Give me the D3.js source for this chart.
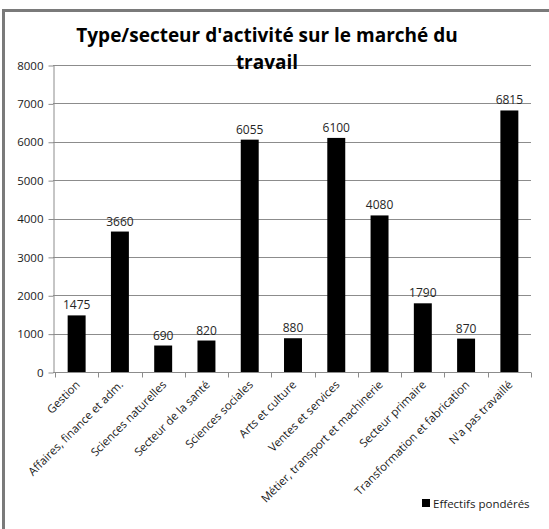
<!DOCTYPE html>
<html>
<head>
<meta charset="utf-8">
<script src="https://cdn.jsdelivr.net/npm/d3@7"></script>
<style>
  body { margin: 0; background: #fff; }
  svg { display: block; font-family: "Open Sans", sans-serif; }
</style>
</head>
<body>
<div id="chart"></div>
<script>
var categories = [
  "Gestion", "Affaires, finance et adm.", "Sciences naturelles", "Secteur de la santé",
  "Sciences sociales", "Arts et culture", "Ventes et services",
  "Métier, transport et machinerie", "Secteur primaire",
  "Transformation et fabrication", "N'a pas travaillé"
];
var values = [1475, 3660, 690, 820, 6055, 880, 6100, 4080, 1790, 870, 6815];
var yTicks = [0, 1000, 2000, 3000, 4000, 5000, 6000, 7000, 8000];
var titleLines = ["Type/secteur d'activité sur le marché du", "travail"];
var seriesName = "Effectifs pondérés";

var width = 549, height = 529;
var margin = {left: 55, right: 18, top: 65, bottom: 157};

var svg = d3.select('#chart')
  .append('svg')
  .attr('width', width)
  .attr('height', height);

// outer frame (only top/left visible in the crop)
svg.append('rect')
  .attr('x', 3.5)
  .attr('y', 10.5)
  .attr('width', width + 10)
  .attr('height', height + 10)
  .attr('fill', 'none')
  .attr('stroke', '#7a7a7a')
  .attr('stroke-width', 3);

var x = d3.scaleBand()
  .domain(categories)
  .range([margin.left, width - margin.right]);

var xBar = d3.scaleBand()
  .domain(categories)
  .range([margin.left, width - margin.right])
  .paddingInner(0.585)
  .paddingOuter(0.2925);

var y = d3.scaleLinear()
  .domain([0, 8000])
  .range([height - margin.bottom, margin.top]);

// gridlines
svg.append('g')
  .selectAll('line')
  .data(yTicks.slice(1))
  .enter()
  .append('line')
  .attr('x1', margin.left - 2)
  .attr('x2', width - margin.right)
  .attr('y1', d => Math.round(y(d)) + 0.5)
  .attr('y2', d => Math.round(y(d)) + 0.5)
  .attr('stroke', '#8c8c8c')
  .attr('stroke-width', 1);

// y axis
var yAxis = svg.append('g')
  .attr('transform', 'translate(' + (margin.left - 1.5) + ',0.5)')
  .call(d3.axisLeft(y).tickValues(yTicks).tickFormat(d3.format('d'))
    .tickSize(5).tickPadding(5).tickSizeOuter(0));
yAxis.select('.domain').attr('stroke', '#8c8c8c');
yAxis.selectAll('.tick line').attr('stroke', '#8c8c8c');
yAxis.selectAll('.tick text')
  .attr('fill', '#1a1a1a')
  .style('font-size', '11.5px')
  .style('font-family', '"Open Sans", sans-serif');

// bars
svg.append('g')
  .selectAll('rect')
  .data(values)
  .enter()
  .append('rect')
  .attr('x', (d, i) => xBar(categories[i]))
  .attr('width', xBar.bandwidth())
  .attr('y', d => y(d))
  .attr('height', d => y(0) - y(d))
  .attr('fill', '#000');

// value labels
svg.append('g')
  .selectAll('text')
  .data(values)
  .enter()
  .append('text')
  .attr('x', (d, i) => x(categories[i]) + x.bandwidth() / 2)
  .attr('y', d => y(d) - 6)
  .attr('text-anchor', 'middle')
  .attr('fill', '#262626')
  .style('font-size', '12px')
  .text(d => d);

// x axis
var xAxis = svg.append('g')
  .attr('transform', 'translate(0,' + (Math.round(y(0)) + 0.5) + ')');
xAxis.append('line')
  .attr('x1', margin.left - 2)
  .attr('x2', width - margin.right)
  .attr('stroke', '#8c8c8c');
xAxis.selectAll('.xtick')
  .data(d3.range(categories.length + 1))
  .enter()
  .append('line')
  .attr('class', 'xtick')
  .attr('x1', i => Math.round(margin.left + i * x.step()) + 0.5)
  .attr('x2', i => Math.round(margin.left + i * x.step()) + 0.5)
  .attr('y1', 0)
  .attr('y2', 5)
  .attr('stroke', '#8c8c8c');
xAxis.selectAll('.xlabel')
  .data(categories)
  .enter()
  .append('text')
  .attr('class', 'xlabel')
  .attr('text-anchor', 'end')
  .attr('fill', '#1a1a1a')
  .style('font-size', '11.4px')
  .attr('transform', d => 'translate(' + (x(d) + x.bandwidth() / 2 + 4) + ',13) rotate(-45)')
  .text(d => d);

// title
svg.append('text')
  .attr('x', 267)
  .attr('y', 42)
  .attr('text-anchor', 'middle')
  .style('font-size', '19px')
  .style('font-weight', 'bold')
  .selectAll('tspan')
  .data(titleLines)
  .enter()
  .append('tspan')
  .attr('x', 267)
  .attr('dy', (d, i) => i === 0 ? 0 : 27)
  .text(d => d);

// legend
var legend = svg.append('g')
  .attr('transform', 'translate(422,499)');
legend.append('rect')
  .attr('width', 8)
  .attr('height', 8)
  .attr('fill', '#000');
legend.append('text')
  .attr('x', 11)
  .attr('y', 8.5)
  .attr('fill', '#1a1a1a')
  .style('font-size', '11.5px')
  .text(seriesName);
</script>
</body>
</html>
